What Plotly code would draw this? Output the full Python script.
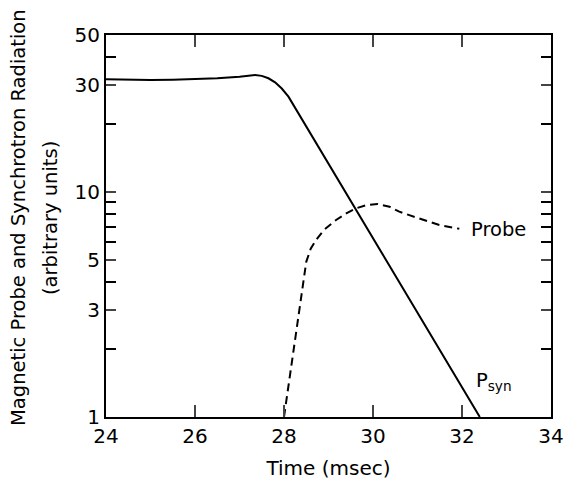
import plotly.graph_objects as go

# Synchrotron radiation (solid)
psyn_t = [24.0, 24.5, 25.0, 25.5, 26.0, 26.5, 27.0, 27.2, 27.35, 27.5, 27.65, 27.8, 27.95, 28.1, 32.4]
psyn_v = [31.8, 31.6, 31.5, 31.6, 31.8, 32.1, 32.6, 33.0, 33.2, 32.9, 32.1, 30.8, 28.9, 26.6, 1.0]

# Magnetic probe (dashed)
probe_t = [28.0, 28.2, 28.35, 28.5, 28.6, 28.72, 28.9, 29.17, 29.4, 29.62, 29.85, 30.1,
           30.37, 30.59, 30.8, 31.05, 31.26, 31.49, 31.94]
probe_v = [1.0, 1.85, 3.0, 4.9, 5.6, 6.13, 6.8, 7.52, 8.05, 8.48, 8.75, 8.86,
           8.62, 8.19, 7.92, 7.6, 7.39, 7.15, 6.87]

x_ticks = [24, 26, 28, 30, 32, 34]
y_ticks = [1, 3, 5, 10, 30, 50]
y_minor = [2, 4, 6, 7, 8, 9, 20, 40]
y_long = [1, 10]

FONT = "DejaVu Sans"

fig = go.Figure()
fig.add_trace(go.Scatter(x=psyn_t, y=psyn_v, mode="lines",
                         line=dict(color="black", width=2), showlegend=False))
fig.add_trace(go.Scatter(x=probe_t, y=probe_v, mode="lines",
                         line=dict(color="black", width=2, dash="8px,5px"), showlegend=False))

fig.update_layout(
    width=568, height=481,
    margin=dict(l=106, r=17, t=35, b=64, autoexpand=False),
    paper_bgcolor="white", plot_bgcolor="white",
    font=dict(family=FONT, color="black", size=20),
    xaxis=dict(range=[24, 34], tickvals=x_ticks, ticks="inside", ticklen=12, tickwidth=2,
               showline=True, linewidth=2, linecolor="black", mirror="allticks",
               showgrid=False, zeroline=False, tickfont=dict(size=20), automargin=False,
               title=dict(text="Time (msec)", font=dict(size=20), standoff=14)),
    yaxis=dict(type="log", range=[0, 1.69897], tickvals=y_ticks, ticks="inside", ticklen=10,
               tickwidth=2, showline=True, linewidth=2, linecolor="black", mirror="allticks",
               showgrid=False, zeroline=False, tickfont=dict(size=20), automargin=False,
               minor=dict(tickvals=y_minor, ticks="inside", ticklen=10, tickwidth=2,
                          tickcolor="black", showgrid=False)),
    yaxis2=dict(type="log", range=[0, 1.69897], overlaying="y", side="left",
                tickvals=y_long, ticks="inside", ticklen=18, tickwidth=2, automargin=False,
                showticklabels=False, showline=True, linewidth=2, linecolor="black",
                mirror="allticks", showgrid=False, zeroline=False),
)

fig.add_annotation(text="Magnetic Probe and Synchrotron Radiation", xref="paper", yref="paper",
                   x=(18 - 106) / 445, y=(417 - 218) / 382, xanchor="center", yanchor="middle",
                   textangle=-90, showarrow=False, font=dict(size=19.5))
fig.add_annotation(text="(arbitrary units)", xref="paper", yref="paper",
                   x=(50 - 106) / 445, y=(417 - 218) / 382, xanchor="center", yanchor="middle",
                   textangle=-90, showarrow=False, font=dict(size=19.5))
fig.add_annotation(text="Probe", x=32.16, y=0.832, xref="x", yref="y",
                   xanchor="left", yanchor="middle", showarrow=False, font=dict(size=19.5))
fig.add_annotation(text="P<sub>syn</sub>", x=32.27, y=0.16, xref="x", yref="y",
                   xanchor="left", yanchor="middle", showarrow=False, font=dict(size=19.5))

fig.write_html("out.html")
